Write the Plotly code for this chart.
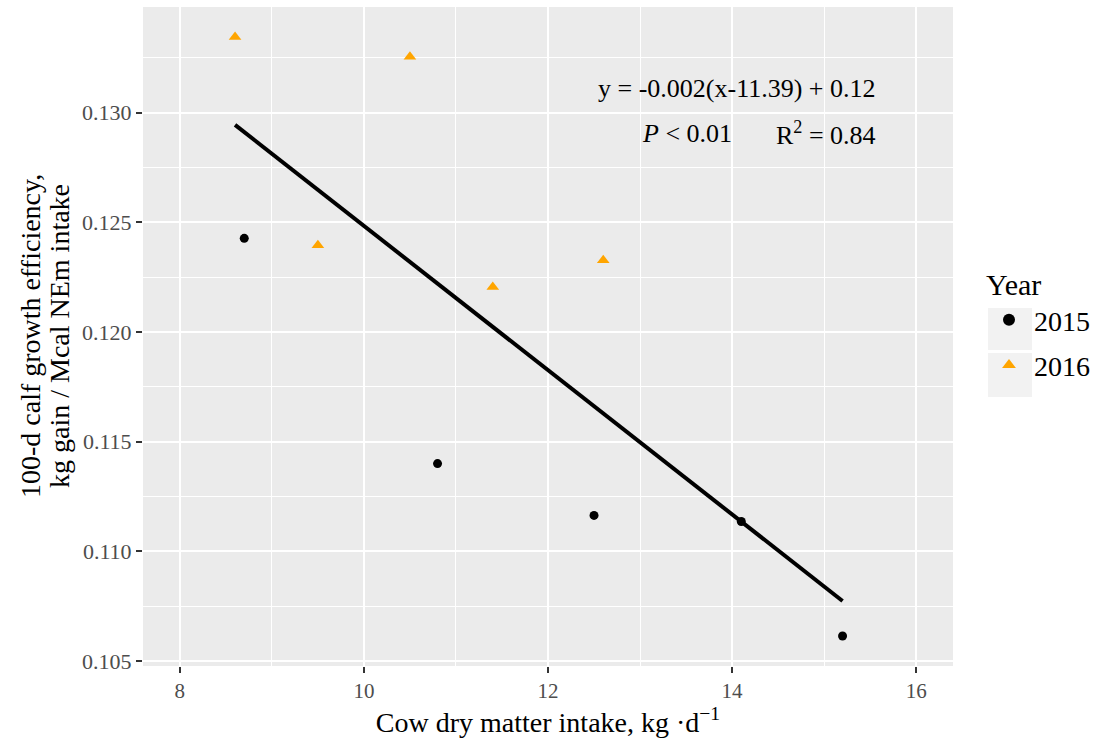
import numpy as np
import plotly.graph_objects as go

# Data
x_2015 = [8.7, 10.8, 12.5, 14.1, 15.2]
y_2015 = [0.12427, 0.1140, 0.11164, 0.11136, 0.10614]
x_2016 = [8.6, 10.5, 9.5, 11.4, 12.6]
y_2016 = [0.13345, 0.13255, 0.12395, 0.12205, 0.12327]

x_ticks = [8, 10, 12, 14, 16]
y_ticks = [0.105, 0.110, 0.115, 0.120, 0.125, 0.130]
y_tick_text = ["0.105", "0.110", "0.115", "0.120", "0.125", "0.130"]

all_x = np.array(x_2015 + x_2016)
all_y = np.array(y_2015 + y_2016)
slope, intercept = np.polyfit(all_x, all_y, 1)
fit_x = np.array([all_x.min(), all_x.max()])
fit_y = slope * fit_x + intercept

# ggplot-like 5% expansion
x_lim = (8, 16)
xr = [x_lim[0] - 0.05 * (x_lim[1] - x_lim[0]), x_lim[1] + 0.05 * (x_lim[1] - x_lim[0])]
ypad = 0.05 * (all_y.max() - all_y.min())
yr = [all_y.min() - ypad, all_y.max() + ypad]

FONT = "Liberation Serif"
W, H = 1104, 744
L, R, T, B = 143, 151, 7, 78
PW, PH = W - L - R, H - T - B


def px_to_paper(px, py):
    return (px - L) / PW, (H - B - py) / PH


fig = go.Figure()
fig.add_trace(go.Scatter(x=fit_x, y=fit_y, mode="lines",
                         line=dict(color="black", width=4), showlegend=False,
                         hoverinfo="skip"))
fig.add_trace(go.Scatter(x=x_2015, y=y_2015, mode="markers", name="2015",
                         legendgroup="a",
                         marker=dict(symbol="circle", size=9, color="black")))
fig.add_trace(go.Scatter(x=x_2016, y=y_2016, mode="markers", name="2016",
                         legendgroup="b",
                         marker=dict(symbol="triangle-up", size=11, color="#FFA500")))

fig.add_annotation(x=15.58, y=0.13108, xref="x", yref="y", xanchor="right",
                   text="y = -0.002(x-11.39) + 0.12", showarrow=False,
                   font=dict(family=FONT, size=26, color="black"))
fig.add_annotation(x=13.0, y=0.12903, xref="x", yref="y", xanchor="left",
                   text="<i>P</i> < 0.01", showarrow=False,
                   font=dict(family=FONT, size=26, color="black"))
fig.add_annotation(x=15.58, y=0.12903, xref="x", yref="y", xanchor="right",
                   text="R<sup>2</sup> = 0.84", showarrow=False,
                   font=dict(family=FONT, size=26, color="black"))

# y-axis title as two rotated lines
for text, px in [("100-d calf growth efficiency,", 30), ("kg gain / Mcal NEm intake", 59)]:
    ax, ay = px_to_paper(px, 336)
    fig.add_annotation(x=ax, y=ay, xref="paper", yref="paper", text=text,
                       textangle=-90, showarrow=False, xanchor="center", yanchor="middle",
                       font=dict(family=FONT, size=28, color="black"))

# legend key backgrounds
shapes = []
for (y0, y1) in [(308, 350), (353, 397)]:
    x0p, y0p = px_to_paper(988, y1)
    x1p, y1p = px_to_paper(1032, y0)
    shapes.append(dict(type="rect", xref="paper", yref="paper",
                       x0=x0p, x1=x1p, y0=y0p, y1=y1p,
                       fillcolor="#F2F2F2", line=dict(width=0), layer="below"))

lx, ly = px_to_paper(984, 256)

fig.update_layout(
    width=W, height=H,
    margin=dict(l=L, r=R, t=T, b=B),
    paper_bgcolor="white",
    plot_bgcolor="#EBEBEB",
    shapes=shapes,
    font=dict(family=FONT, size=20, color="black"),
    legend=dict(title=dict(text="Year", font=dict(family=FONT, size=30)),
                x=lx, y=ly, xanchor="left", yanchor="top",
                font=dict(family=FONT, size=28), itemsizing="constant",
                bgcolor="rgba(0,0,0,0)", tracegroupgap=6, itemwidth=40),
    xaxis=dict(range=xr, tickvals=x_ticks, ticks="outside",
               ticklen=6, tickcolor="#333333", tickwidth=1.5, automargin=False,
               showgrid=True, gridcolor="white", gridwidth=1.5,
               zeroline=False, showline=False,
               tickfont=dict(family=FONT, size=21, color="#4D4D4D"),
               title=dict(text="Cow dry matter intake, kg ·d<sup>−1</sup>",
                          font=dict(family=FONT, size=28), standoff=8),
               minor=dict(tickvals=[9, 11, 13, 15], showgrid=True,
                          gridcolor="white", gridwidth=0.7, ticks="")),
    yaxis=dict(range=yr, tickvals=y_ticks, ticktext=y_tick_text,
               ticks="outside", ticklen=6, tickcolor="#333333", tickwidth=1.5,
               automargin=False,
               showgrid=True, gridcolor="white", gridwidth=1.5,
               zeroline=False, showline=False,
               tickfont=dict(family=FONT, size=22, color="#4D4D4D"),
               minor=dict(tickvals=[0.1075, 0.1125, 0.1175, 0.1225, 0.1275, 0.1325],
                          showgrid=True, gridcolor="white", gridwidth=0.7, ticks="")),
)

fig.write_html("out.html", config={"displayModeBar": False},
               post_script="document.body.style.margin='0';")
